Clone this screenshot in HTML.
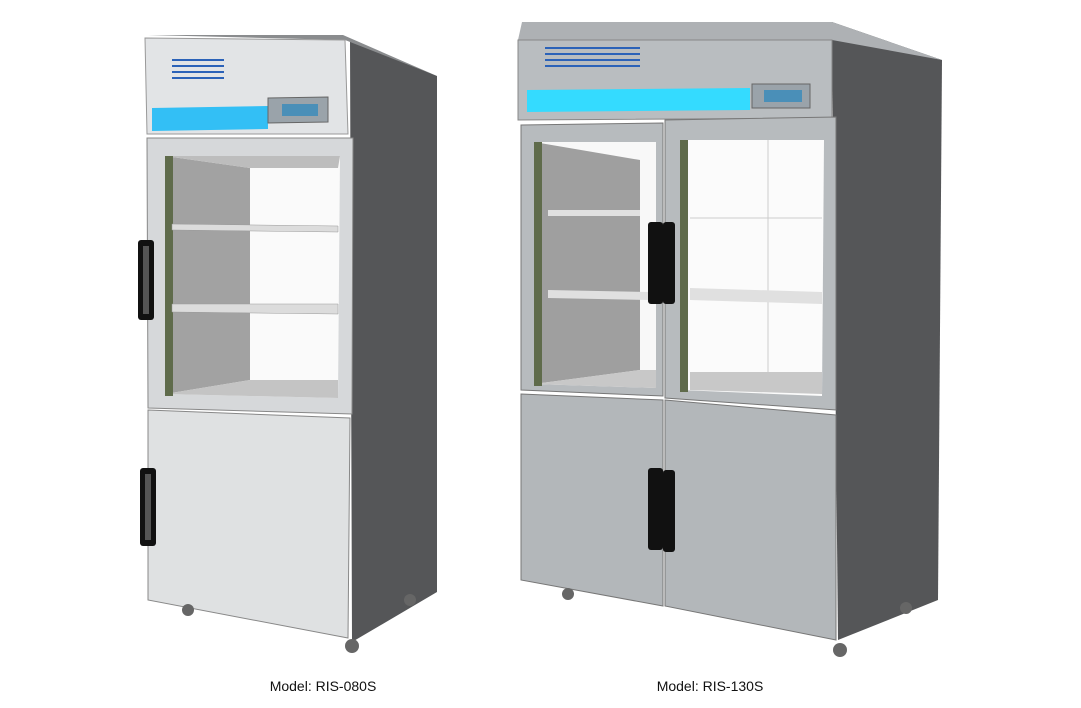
<!DOCTYPE html>
<html><head><meta charset="utf-8"><style>
html,body{margin:0;padding:0;background:#fff;}
svg{display:block}
text{font-family:"Liberation Sans",sans-serif;}
</style></head><body>
<svg width="1081" height="708" viewBox="0 0 1081 708" xmlns="http://www.w3.org/2000/svg">
<!-- LEFT FRIDGE -->
<polygon points="343,37 437,76 437,592 352,642 350,40" fill="#555658"/>
<polygon points="148,35 343,35 437,76 345,40" fill="#8a8c8e"/>
<polygon points="145,38 345,40 348,134 147,134" fill="#e2e4e6" stroke="#999" stroke-width="1"/>
<g stroke="#2b62b8" stroke-width="2">
<line x1="172" y1="60" x2="224" y2="60"/><line x1="172" y1="66" x2="224" y2="66"/><line x1="172" y1="72" x2="224" y2="72"/><line x1="172" y1="78" x2="224" y2="78"/>
</g>
<polygon points="152,108 268,106 268,129 152,131" fill="#33bff5"/>
<polygon points="268,98 328,97 328,122 268,123" fill="#9aa3aa" stroke="#666"/>
<rect x="282" y="104" width="36" height="12" fill="#4a8fb8"/>
<polygon points="147,138 353,138 352,414 148,408" fill="#d6d8da" stroke="#888"/>
<polygon points="165,156 340,156 338,398 165,394" fill="#fafafa"/>
<polygon points="165,156 250,168 250,380 165,394" fill="#a2a2a2"/>
<polygon points="165,156 340,156 338,168 250,168" fill="#bdbdbd"/>
<polygon points="165,394 250,380 338,380 338,398" fill="#c4c4c4"/>
<rect x="165" y="156" width="8" height="240" fill="#5f6b4b"/>
<polygon points="172,224 338,226 338,232 172,230" fill="#dcdcdc" stroke="#999" stroke-width=".5"/>
<polygon points="172,304 338,304 338,314 172,312" fill="#dcdcdc" stroke="#999" stroke-width=".5"/>
<rect x="138" y="240" width="16" height="80" rx="3" fill="#111"/>
<rect x="143" y="246" width="6" height="68" fill="#555"/>
<polygon points="148,410 350,418 348,638 148,600" fill="#dfe1e2" stroke="#888"/>
<rect x="140" y="468" width="16" height="78" rx="3" fill="#111"/>
<rect x="145" y="474" width="6" height="66" fill="#555"/>
<g fill="#666"><circle cx="188" cy="610" r="6"/><circle cx="352" cy="646" r="7"/><circle cx="410" cy="600" r="6"/></g>
<!-- RIGHT FRIDGE -->
<polygon points="832,22 942,60 938,600 838,640 832,40" fill="#555658"/>
<polygon points="522,22 832,22 942,60 832,40 518,40" fill="#aeb1b4"/>
<polygon points="518,40 832,40 832,118 518,120" fill="#b9bdc0" stroke="#888"/>
<g stroke="#2b62b8" stroke-width="2">
<line x1="545" y1="48" x2="640" y2="48"/><line x1="545" y1="54" x2="640" y2="54"/><line x1="545" y1="60" x2="640" y2="60"/><line x1="545" y1="66" x2="640" y2="66"/>
</g>
<polygon points="527,90 750,88 750,110 527,112" fill="#34dbff"/>
<polygon points="752,84 810,84 810,108 752,108" fill="#9aa3aa" stroke="#666"/>
<rect x="764" y="90" width="38" height="12" fill="#4a8fb8"/>
<!-- upper left door -->
<polygon points="521,125 663,123 663,396 521,390" fill="#b7bbbe" stroke="#777"/>
<polygon points="534,142 656,142 656,388 534,384" fill="#f8f8f8"/>
<polygon points="534,142 640,160 640,370 534,384" fill="#9f9f9f"/>
<polygon points="534,384 640,370 656,370 656,388" fill="#c8c8c8"/>
<rect x="534" y="142" width="8" height="244" fill="#5f6b4b"/>
<polygon points="548,210 640,210 640,216 548,216" fill="#e0e0e0"/>
<polygon points="548,290 650,292 650,300 548,298" fill="#e0e0e0"/>
<!-- upper right door -->
<polygon points="665,120 836,117 836,410 665,398" fill="#b7bbbe" stroke="#777"/>
<polygon points="680,140 824,140 822,396 680,390" fill="#fbfbfb"/>
<rect x="680" y="140" width="8" height="252" fill="#5f6b4b"/>
<line x1="768" y1="140" x2="768" y2="392" stroke="#ccc"/>
<line x1="690" y1="218" x2="822" y2="218" stroke="#ccc"/>
<polygon points="690,288 822,292 822,304 690,300" fill="#e0e0e0"/>
<polygon points="690,372 822,372 822,394 690,390" fill="#c8c8c8"/>
<rect x="648" y="222" width="15" height="82" rx="3" fill="#111"/>
<rect x="663" y="222" width="12" height="82" rx="3" fill="#111"/>
<!-- lower doors -->
<polygon points="521,394 663,400 663,606 521,580" fill="#b3b7ba" stroke="#777"/>
<polygon points="665,400 836,415 836,640 665,606" fill="#b3b7ba" stroke="#777"/>
<rect x="648" y="468" width="15" height="82" rx="3" fill="#111"/>
<rect x="663" y="470" width="12" height="82" rx="3" fill="#111"/>
<g fill="#666"><circle cx="568" cy="594" r="6"/><circle cx="840" cy="650" r="7"/><circle cx="906" cy="608" r="6"/></g>
<text x="323" y="691" font-size="14" text-anchor="middle" fill="#111">Model: RIS-080S</text>
<text x="710" y="691" font-size="14" text-anchor="middle" fill="#111">Model: RIS-130S</text>
</svg>
</body></html>
